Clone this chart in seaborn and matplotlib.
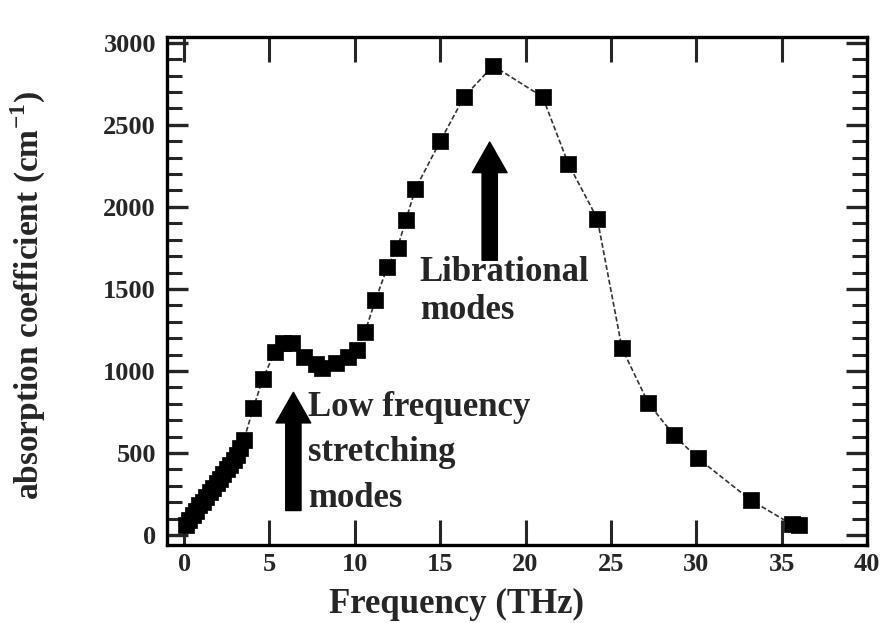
import matplotlib
matplotlib.use("Agg")
import matplotlib.pyplot as plt
import seaborn as sns
import pandas as pd
from matplotlib.ticker import MultipleLocator

# Absorption spectrum of liquid water in the THz range
freq_thz = [0.1, 0.3, 0.5, 0.7, 0.9, 1.1, 1.3, 1.5, 1.7, 1.9, 2.1, 2.3, 2.5, 2.7,
            2.9, 3.1, 3.3, 3.5, 4.05, 4.6, 5.3, 5.8, 6.3, 7.0, 7.7, 8.1, 8.9, 9.6,
            10.1, 10.6, 11.2, 11.9, 12.5, 13.0, 13.55, 15.0, 16.4, 18.1, 21.0,
            22.5, 24.2, 25.65, 27.2, 28.7, 30.1, 33.2, 35.6, 36.0]
absorption = [60, 95, 120, 150, 185, 200, 235, 260, 290, 320, 345, 370, 400, 430,
              460, 490, 530, 580, 773, 950, 1113, 1168, 1168, 1083, 1040, 1016, 1047, 1083,
              1126, 1240, 1430, 1631, 1752, 1923, 2110, 2400, 2670, 2860, 2670,
              2264, 1929, 1138, 803, 608, 468, 213, 65, 60]

x_ticks = [0, 5, 10, 15, 20, 25, 30, 35, 40]
y_ticks = [0, 500, 1000, 1500, 2000, 2500, 3000]

df = pd.DataFrame({"freq": freq_thz, "alpha": absorption})

sns.set_theme(style="ticks")
plt.rcParams["font.family"] = ["Liberation Serif", "DejaVu Serif"]
plt.rcParams["mathtext.fontset"] = "custom"
plt.rcParams["mathtext.bf"] = "Liberation Serif:bold"
plt.rcParams["mathtext.rm"] = "Liberation Serif"

fig = plt.figure(figsize=(8.81, 6.23), dpi=100)
ax = fig.add_axes([0.1896, 0.1252, 0.7945, 0.8154])

sns.lineplot(data=df, x="freq", y="alpha", ax=ax, sort=False, estimator=None,
             color="#333333", lw=1.2, dashes=False, linestyle=(0, (3, 1.5)))
sns.scatterplot(data=df, x="freq", y="alpha", ax=ax, marker="s", s=145,
                color="black", edgecolor="black", linewidth=0.5, zorder=3)

ax.set_xlim(-1, 40)
ax.set_ylim(-60, 3035)
ax.set_xticks(x_ticks)
ax.set_yticks(y_ticks)
ax.yaxis.set_minor_locator(MultipleLocator(100))

ax.tick_params(axis="x", which="major", direction="in", length=18, width=2.2,
               top=True, bottom=True, pad=6)
ax.tick_params(axis="y", which="major", direction="in", length=15, width=2.4,
               left=True, right=True, pad=8)
ax.tick_params(axis="y", which="minor", direction="in", length=11, width=2.2,
               left=True, right=True)
for lab in ax.get_xticklabels() + ax.get_yticklabels():
    lab.set_fontsize(19)
    lab.set_fontweight("bold")

for sp in ax.spines.values():
    sp.set_visible(True)
    sp.set_linewidth(2.4)
    sp.set_color("black")

ax.set_xlabel("Frequency (THz)", fontsize=25, fontweight="bold")
ax.xaxis.set_label_coords(0.413, -0.085)
ax.set_ylabel("absorption coefficient (cm$^{\\mathbf{-1}}$)", fontsize=24,
              fontweight="bold")
ax.yaxis.set_label_coords(-0.17, 0.49)

arrow_style = "simple,head_length=1.1,head_width=1.25,tail_width=0.55"
ax.annotate("", xy=(6.4, 870), xytext=(6.4, 150),
            arrowprops=dict(arrowstyle=arrow_style, fc="black", ec="black",
                            mutation_scale=20, shrinkA=0, shrinkB=0))
ax.annotate("", xy=(17.9, 2395), xytext=(17.9, 1675),
            arrowprops=dict(arrowstyle=arrow_style, fc="black", ec="black",
                            mutation_scale=20, shrinkA=0, shrinkB=0))

ax.text(7.25, 880, "Low frequency\nstretching\nmodes", fontsize=25,
        fontweight="bold", ha="left", va="top", linespacing=1.5)
ax.text(13.8, 1700, "Librational\nmodes", fontsize=25, ha="left", va="top",
        linespacing=1.2, fontweight="semibold")

fig.savefig("out.png", dpi=100, facecolor="white")
